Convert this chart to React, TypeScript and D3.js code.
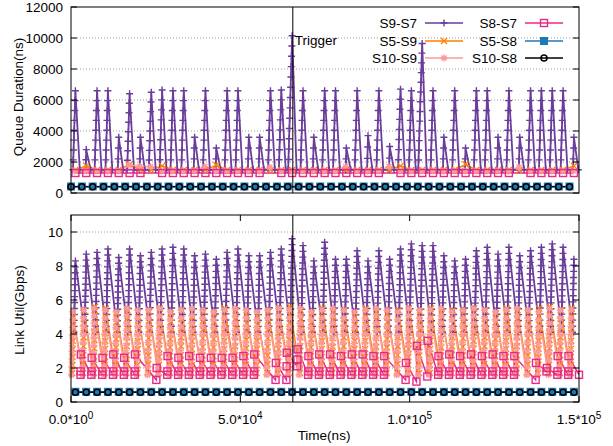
import * as d3 from "d3";

// one entry per queue build-up cycle (ns)
const cycleTimes = [
    1300, 4500, 7700, 10900, 14100, 17300, 20500, 23700, 26900, 30100,
    33300, 36500, 39700, 42900, 46100, 49300, 52500, 55700, 58900, 62100,
    65300, 68500, 71700, 74900, 78100, 81300, 84500, 87700, 90900, 94100,
    97300, 100500, 103700, 106900, 110100, 113300, 116500, 119700, 122900, 126100,
    129300, 132500, 135700, 138900, 142100, 145300, 148500,
];

// --- queue duration (ns) ---
const queueS9S7Peak = [
    6600, 2800, 6600, 6600, 3600, 6400, 3600, 6500, 6650, 6600,
    6600, 3600, 6600, 2900, 6600, 6600, 3600, 3600, 6600, 6650,
    10150, 6600, 3600, 6600, 6600, 2900, 6600, 3700, 6600, 3000,
    6700, 6600, 9650, 6600, 3600, 6600, 2900, 6600, 6600, 3600,
    6600, 3600, 6600, 6600, 6600, 6600, 3600,
];
const queueS9S7Base = 1500;
const queueS5S9 = [
    1480, 1750, 1480, 1480, 1480, 1850, 1480, 1480, 1750, 1480,
    1480, 1480, 1480, 1800, 1480, 1480, 1480, 1480, 1480, 1480,
    1480, 1480, 1480, 1480, 1480, 1480, 1480, 1480, 1480, 1480,
    1750, 1480, 1480, 1480, 1480, 1480, 1850, 1480, 1480, 1480,
    1480, 1480, 1480, 1480, 1480, 1480, 1750,
];
const queueS10S9 = [
    1420, 1420, 1420, 1420, 1420, 1800, 1700, 1700, 1420, 1420,
    1420, 1420, 1700, 1420, 1420, 1420, 1420, 1420, 1650, 1420,
    1420, 1420, 1420, 1420, 1420, 1700, 1420, 1420, 1420, 1700,
    1420, 1420, 1420, 1420, 1420, 1420, 1420, 1420, 1420, 1420,
    1420, 1650, 1420, 1420, 1420, 1420, 1420,
];
const queueS8S7 = [
    1290, 1290, 1290, 1290, 1290, 1290, 1290, null, 1290, 1290,
    1290, 1290, 1290, 1290, 1290, 1290, 1290, 1290, null, 1290,
    1290, 1290, 1290, 1290, 1290, 1290, 1290, 1290, 1290, null,
    1290, 1290, 1290, 1290, 1290, 1290, 1290, 1290, 1290, 1290,
    1290, null, 1290, 1290, 1290, 1290, 1290,
];
const queueS5S8 = 420;
const queueS10S8 = 400;

// --- link utilisation (Gbps) ---
const utilS9S7Peak = [
    8.3, 8.7, 8.8, 9.0, 8.5, 9.0, 8.6, 8.8, 9.0, 9.1,
    9.0, 8.6, 8.7, 8.4, 8.8, 9.0, 8.6, 8.6, 8.8, 9.0,
    9.6, 9.2, 8.3, 9.4, 8.4, 8.4, 8.9, 8.3, 8.9, 8.4,
    9.0, 9.3, 9.2, 9.2, 8.6, 8.3, 8.4, 8.9, 9.1, 8.7,
    9.1, 8.6, 8.9, 9.1, 9.3, 9.1, 8.4,
];
const utilS9S7Low = 4.1;
const utilS5S9Peak = [
    5.0, 5.4, 5.6, 5.5, 5.2, 5.4, 5.0, 5.3, 5.5, 5.2,
    5.4, 5.0, 5.3, 5.2, 5.5, 5.4, 5.1, 5.0, 5.3, 5.5,
    5.6, 5.4, 5.2, 5.5, 5.3, 5.4, 5.0, 5.5, 5.3, 5.2,
    5.4, 5.5, 5.3, 5.5, 5.2, 5.4, 5.3, 5.5, 5.4, 5.2,
    5.5, 5.4, 5.3, 5.5, 5.6, 5.4, 5.5,
];
const utilS5S9Low = 1.7;
const utilS10S9Peak = [
    5.3, 5.4, 5.5, 5.4, 5.3, 5.5, 5.4, 5.4, 5.5, 5.3,
    5.4, 5.5, 5.4, 5.3, 5.4, 5.5, 5.4, 5.3, 5.4, 5.5,
    5.4, 5.5, 5.3, 5.4, 5.5, 5.4, 5.3, 5.4, 5.5, 5.4,
    5.3, 5.5, 5.4, 5.4, 5.5, 5.3, 5.4, 5.5, 5.4, 5.3,
    5.4, 5.5, 5.4, 5.3, 5.5, 5.4, 5.4,
];
const utilS10S9Low = 1.6;
const utilS8S7Low = [
    1.6, 1.6, 1.6, 1.6, 1.6, 1.6, null, 1.3, 1.6, 1.6,
    1.6, 1.6, 1.6, 1.6, 1.6, 1.6, 1.6, null, 1.3, 1.3,
    2.1, 1.6, 1.6, 1.6, 1.6, 1.6, 1.6, 1.6, 1.6, null,
    1.3, 1.2, 1.5, 1.6, 1.6, 1.6, 1.6, 1.6, 1.6, 1.6,
    1.6, null, 1.3, 1.8, 1.6, 1.6, 1.6,
];
const utilS8S7Mid = [
    1.8, 1.8, 1.8, 1.8, 1.8, 1.8, null, null, 1.8, 1.8,
    1.8, 1.8, 1.8, 1.8, 1.8, 1.8, 1.8, null, null, 2.1,
    2.5, 1.8, 1.8, 1.8, 1.8, 1.8, 1.8, 1.8, 1.8, null,
    null, null, null, 1.8, 1.8, 1.8, 1.8, 1.8, 1.8, 1.8,
    1.8, null, null, null, 1.8, 1.8, null,
];
const utilS8S7High = [
    2.8, 2.6, 2.6, 2.8, 2.6, 2.8, null, 2.0, 2.7, 2.6,
    2.7, 2.6, 2.6, 2.6, 2.6, 2.7, 2.8, null, 2.3, 2.9,
    3.1, 2.7, 2.8, 2.8, 2.7, 2.8, 2.8, 2.7, 2.7, null,
    2.3, 3.3, 3.6, 2.7, 2.8, 2.7, 2.8, 2.7, 2.8, 2.7,
    2.7, null, 2.3, 2.0, 2.7, 2.7, null,
];
const utilS5S8 = 0.6;
const utilS10S8 = 0.57;

const queueTicks = [0, 2000, 4000, 6000, 8000, 10000, 12000];
const utilTicks = [0, 2, 4, 6, 8, 10];
const timeTicks = [0, 50000, 100000, 150000];
const timeTickLabels = [["0.0*10", "0"], ["5.0*10", "4"], ["1.0*10", "5"], ["1.5*10", "5"]];
const triggerTime = 65500;

type Pt = [number, number];
type MarkerKind = "plus" | "cross" | "star" | "square" | "filledSquare" | "circle";

interface ISeries {
    name: string;
    color: string;
    marker: MarkerKind;
    width: number;
    queue: Pt[];
    util: Pt[];
}

const FONT = "'Liberation Sans', Arial, Helvetica, sans-serif";

// rising edge sampled every `step` units, `dt` ns apart
function ramp(peaks: number[], low: number, step: number, dt: number, shift: number, fallAt?: number): Pt[] {
    const pts: Pt[] = [];
    cycleTimes.forEach((t, i) => {
        const n = Math.max(1, Math.round((peaks[i] - low) / step));
        for (let j = 0; j <= n; j++) {
            pts.push([t + shift - (n - j) * dt, low + ((peaks[i] - low) * j) / n]);
        }
        if (fallAt !== undefined) pts.push([t + shift + fallAt, low]);
    });
    return pts;
}

function level(values: (number | null)[] | number, shift: number): Pt[] {
    const pts: Pt[] = [];
    cycleTimes.forEach((t, i) => {
        const v = typeof values === "number" ? values : values[i];
        if (v !== null) pts.push([t + shift, v]);
    });
    return pts;
}

function pinkUtil(): Pt[] {
    const pts: Pt[] = [];
    cycleTimes.forEach((t, i) => {
        if (utilS8S7Low[i] !== null) pts.push([t + 1500, utilS8S7Low[i] as number]);
        if (utilS8S7Mid[i] !== null) pts.push([t + 1550, utilS8S7Mid[i] as number]);
        if (utilS8S7High[i] !== null) pts.push([t + 1600, utilS8S7High[i] as number]);
    });
    return pts;
}

const series: ISeries[] = [
    { name: "S9-S7", color: "#6a3d9a", marker: "plus", width: 1.8, queue: ramp(queueS9S7Peak, queueS9S7Base, 645, 90, 0, 1300), util: ramp(utilS9S7Peak, utilS9S7Low, 0.35, 35, 0) },
    { name: "S5-S9", color: "#ff7f00", marker: "cross", width: 1.5, queue: level(queueS5S9, 0), util: ramp(utilS5S9Peak, utilS5S9Low, 0.5, 40, -650) },
    { name: "S10-S9", color: "#fb9a99", marker: "star", width: 1.6, queue: level(queueS10S9, -200), util: ramp(utilS10S9Peak, utilS10S9Low, 0.45, 40, -800) },
    { name: "S8-S7", color: "#e7298a", marker: "square", width: 1.5, queue: level(queueS8S7, 0), util: pinkUtil() },
    { name: "S5-S8", color: "#1f78b4", marker: "filledSquare", width: 1.5, queue: level(queueS5S8, -1300), util: level(utilS5S8, 0) },
    { name: "S10-S8", color: "#000000", marker: "circle", width: 1.5, queue: level(queueS10S8, -1300), util: level(utilS10S8, 0) },
];

function Marker({ kind, cx, cy, color }: { kind: MarkerKind; cx: number; cy: number; color: string }) {
    const s = 3.5;
    if (kind === "plus") return <path d={`M${cx - s},${cy}H${cx + s}M${cx},${cy - s}V${cy + s}`} stroke={color} strokeWidth={1.4} />;
    if (kind === "cross") return <path d={`M${cx - 3},${cy - 3}L${cx + 3},${cy + 3}M${cx - 3},${cy + 3}L${cx + 3},${cy - 3}`} stroke={color} strokeWidth={1.4} />;
    if (kind === "star") return <path d={`M${cx - s},${cy}H${cx + s}M${cx},${cy - s}V${cy + s}M${cx - 2.6},${cy - 2.6}L${cx + 2.6},${cy + 2.6}M${cx - 2.6},${cy + 2.6}L${cx + 2.6},${cy - 2.6}`} stroke={color} strokeWidth={1.4} />;
    if (kind === "square") return <rect x={cx - s} y={cy - s} width={2 * s} height={2 * s} fill="none" stroke={color} strokeWidth={1.4} />;
    if (kind === "filledSquare") return <rect x={cx - s} y={cy - s} width={2 * s} height={2 * s} fill={color} stroke={color} strokeWidth={1} />;
    return <circle cx={cx} cy={cy} r={3} fill="none" stroke={color} strokeWidth={1.5} />;
}

function Panel(props: {
    x: d3.ScaleLinear<number, number>;
    y: d3.ScaleLinear<number, number>;
    ticks: number[];
    which: "queue" | "util";
    showTimeAxis: boolean;
    id: string;
}) {
    const { x, y, ticks, which, showTimeAxis, id } = props;
    const [x0, x1] = x.range();
    const [yb, yt] = y.range();
    const line = d3.line<Pt>().x(d => x(d[0])).y(d => y(d[1]));

    return (
        <g>
            <clipPath id={id}>
                <rect x={x0} y={yt} width={x1 - x0} height={yb - yt} />
            </clipPath>
            {/* grid */}
            <g stroke="#a0a0a0" strokeWidth={1} strokeDasharray="1,2">
                {ticks.filter(t => t > y.domain()[0] && y(t) > yt + 1).map(t => (
                    <line key={t} x1={x0} x2={x1} y1={y(t)} y2={y(t)} />
                ))}
            </g>
            {/* data */}
            <g clipPath={`url(#${id})`}>
                {series.map(s => (
                    <path key={s.name} d={line(s[which]) ?? ""} fill="none" stroke={s.color} strokeWidth={s.width} />
                ))}
            </g>
            {series.map(s => (
                <g key={s.name + "m"}>
                    {s[which].map((d, i) => (
                        <Marker key={i} kind={s.marker} cx={x(d[0])} cy={y(d[1])} color={s.color} />
                    ))}
                </g>
            ))}
            {/* ticks */}
            <g stroke="#000" strokeWidth={1}>
                {ticks.map(t => (
                    <g key={t}>
                        <line x1={x0} x2={x0 + 6} y1={y(t)} y2={y(t)} />
                        <line x1={x1 - 6} x2={x1} y1={y(t)} y2={y(t)} />
                    </g>
                ))}
                {showTimeAxis && timeTicks.map(t => (
                    <g key={t}>
                        <line x1={x(t)} x2={x(t)} y1={yb} y2={yb - 6} />
                        <line x1={x(t)} x2={x(t)} y1={yt} y2={yt + 6} />
                    </g>
                ))}
            </g>
            <g fontFamily={FONT} fontSize={13.5} fill="#000" textAnchor="end">
                {ticks.map(t => (
                    <text key={t} x={x0 - 8} y={y(t)} dy="0.36em">{t}</text>
                ))}
            </g>
            {showTimeAxis && (
                <g fontFamily={FONT} fontSize={13.5} fill="#000" textAnchor="middle">
                    {timeTicks.map((t, i) => (
                        <text key={t} x={x(t)} y={yb + 22}>
                            {timeTickLabels[i][0]}
                            <tspan fontSize={10} dy={-5}>{timeTickLabels[i][1]}</tspan>
                        </text>
                    ))}
                </g>
            )}
            <rect x={x0} y={yt} width={x1 - x0} height={yb - yt} fill="none" stroke="#000" strokeWidth={1} />
        </g>
    );
}

function App() {
    const width = 613;
    const height = 446;
    const x = d3.scaleLinear().domain([0, 150000]).range([71, 579]);
    const yQueue = d3.scaleLinear().domain([0, 12000]).range([193, 7]);
    const yUtil = d3.scaleLinear().domain([0, 11]).range([402, 215]);

    const legendRows = [23, 41, 58];
    const legendCols = [{ labelX: 417, lineX: 425 }, { labelX: 517, lineX: 525 }];

    return (
        <svg width={width} height={height} style={{ position: "absolute", left: 0, top: 0, background: "#fff" }}>
            <Panel x={x} y={yQueue} ticks={queueTicks} which="queue" showTimeAxis={false} id="clipQueue" />
            <Panel x={x} y={yUtil} ticks={utilTicks} which="util" showTimeAxis={true} id="clipUtil" />

            {/* trigger */}
            <line x1={x(triggerTime)} x2={x(triggerTime)} y1={yQueue.range()[1]} y2={yQueue.range()[0]} stroke="#000" strokeWidth={1} />
            <line x1={x(triggerTime)} x2={x(triggerTime)} y1={yUtil.range()[1]} y2={yUtil.range()[0]} stroke="#000" strokeWidth={1} />
            <text x={x(triggerTime) + 2} y={45} fontFamily={FONT} fontSize={13.5}>Trigger</text>

            {/* axis titles */}
            <text transform={`translate(23,97) rotate(-90)`} textAnchor="middle" fontFamily={FONT} fontSize={13.5}>Queue Duration(ns)</text>
            <text transform={`translate(24,310) rotate(-90)`} textAnchor="middle" fontFamily={FONT} fontSize={13.5}>Link Util(Gbps)</text>
            <text x={324} y={440} textAnchor="middle" fontFamily={FONT} fontSize={13.5}>Time(ns)</text>

            {/* legend */}
            <g fontFamily={FONT} fontSize={13.5}>
                {series.map((s, i) => {
                    const col = legendCols[Math.floor(i / 3)];
                    const ry = legendRows[i % 3];
                    return (
                        <g key={s.name}>
                            <text x={col.labelX} y={ry} dy="0.36em" textAnchor="end">{s.name}</text>
                            <line x1={col.lineX} x2={col.lineX + 38} y1={ry} y2={ry} stroke={s.color} strokeWidth={1.5} />
                            <Marker kind={s.marker} cx={col.lineX + 19} cy={ry} color={s.color} />
                        </g>
                    );
                })}
            </g>
        </svg>
    );
}

export default App;
